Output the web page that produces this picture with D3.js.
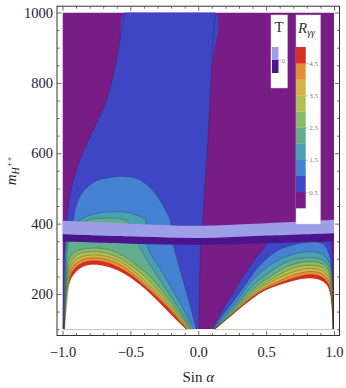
<!DOCTYPE html>
<html lang="en">
<head>
<meta charset="UTF-8">
<title>R_gamma_gamma contour</title>
<script src="https://cdn.jsdelivr.net/npm/d3@7"></script>
<style>
    html, body {
        margin: 0;
        padding: 0;
        background: #fff;
        overflow: hidden;
    }
    text {
        font-family: "Liberation Serif", "DejaVu Serif", serif;
    }
</style>
</head>
<body>
<script>
    // contour levels of R_gamma_gamma and the colour of each band (0-0.5, 0.5-1, ... 4.5-5)
    const levels = [0.5, 1, 1.5, 2, 2.5, 3, 3.5, 4, 4.5];
    const bandColors = ['#781c86', '#3e46c5', '#4682d2', '#4aa0b2', '#62ad8e',
        '#88bb68', '#b2bf52', '#d6b446', '#e58f35', '#dc2b22'];

    // boundary of the region R >= level, left arch (sin a < 0), points [sin a, m]
    const left05 = [[-0.998, 100], [-0.993, 250], [-0.985, 340], [-0.975, 380], [-0.969, 411], [-0.957, 449],
        [-0.932, 505], [-0.871, 581], [-0.785, 658], [-0.674, 752], [-0.613, 847], [-0.576, 923], [-0.54, 1000],
        [0.123, 1000], [0.099, 847], [0.074, 658], [0.05, 515], [0.033, 411], [0.02, 370], [0.014, 300],
        [0.01, 250], [0.008, 175], [0.003, 100]];
    const left10 = [[-0.996, 100], [-0.986, 250], [-0.978, 340], [-0.955, 385], [-0.92, 411], [-0.9, 450],
        [-0.85, 490], [-0.76, 520], [-0.64, 532], [-0.54, 534], [-0.44, 526], [-0.35, 500], [-0.28, 465],
        [-0.23, 430], [-0.208, 411], [-0.195, 375], [-0.183, 340], [-0.12, 250], [-0.065, 175], [-0.015, 100]];
    const left15 = [[-0.994, 100], [-0.98, 250], [-0.97, 340], [-0.94, 385], [-0.87, 411], [-0.82, 421],
        [-0.72, 431], [-0.6, 434], [-0.5, 430], [-0.43, 420], [-0.39, 411], [-0.385, 375], [-0.38, 340],
        [-0.247, 250], [-0.136, 175], [-0.03, 100]];
    const left20 = [[-0.992, 100], [-0.974, 250], [-0.962, 335], [-0.93, 380], [-0.8, 411], [-0.72, 415],
        [-0.64, 416], [-0.56, 413], [-0.52, 405], [-0.47, 375], [-0.44, 340], [-0.3, 250], [-0.17, 175],
        [-0.045, 100]];
    const left25 = [[-0.99, 100], [-0.968, 250], [-0.95, 300], [-0.9, 322], [-0.8, 330], [-0.7, 329],
        [-0.6, 318], [-0.5, 295], [-0.355, 250], [-0.195, 175], [-0.055, 100]];
    const left30 = [[-0.989, 100], [-0.962, 250], [-0.94, 290], [-0.89, 312], [-0.8, 320], [-0.7, 318],
        [-0.6, 306], [-0.5, 282], [-0.395, 250], [-0.215, 175], [-0.064, 100]];
    const left35 = [[-0.988, 100], [-0.955, 250], [-0.93, 285], [-0.88, 303], [-0.78, 311], [-0.68, 307],
        [-0.58, 293], [-0.5, 272], [-0.43, 250], [-0.232, 175], [-0.072, 100]];
    const left40 = [[-0.987, 100], [-0.948, 250], [-0.92, 280], [-0.86, 297], [-0.77, 303], [-0.67, 298],
        [-0.57, 282], [-0.455, 250], [-0.245, 175], [-0.08, 100]];
    const left45 = [[-0.986, 100], [-0.94, 250], [-0.91, 272], [-0.85, 289], [-0.77, 294], [-0.67, 289],
        [-0.56, 270], [-0.48, 250], [-0.26, 175], [-0.085, 100]];
    const leftEdge = [[-0.985, 100], [-0.975, 174], [-0.957, 221], [-0.92, 254], [-0.846, 278], [-0.773, 283],
        [-0.674, 278], [-0.552, 259], [-0.429, 226], [-0.306, 183], [-0.184, 135], [-0.09, 100]];

    // same for the right arch (sin a > 0)
    const right05 = [[0.1, 100], [0.21, 175], [0.33, 250], [0.42, 300], [0.5, 340], [0.56, 375], [0.72, 385],
        [0.86, 385], [0.95, 372], [0.98, 340], [0.993, 250], [0.999, 100]];
    const right10 = [[0.105, 100], [0.18, 140], [0.25, 175], [0.35, 228], [0.45, 280], [0.57, 320], [0.7, 340],
        [0.82, 348], [0.92, 342], [0.96, 318], [0.986, 260], [0.996, 170], [0.999, 100]];
    const right15 = [[0.108, 100], [0.185, 135], [0.275, 175], [0.39, 235], [0.52, 280], [0.66, 308],
        [0.8, 320], [0.915, 313], [0.972, 282], [0.992, 230], [0.997, 164], [0.998, 100]];
    const right20 = [[0.111, 100], [0.2, 135], [0.293, 175], [0.41, 227], [0.54, 266], [0.67, 294],
        [0.8, 303], [0.915, 297], [0.97, 272], [0.99, 225], [0.996, 164], [0.997, 100]];
    const right25 = [[0.113, 100], [0.21, 135], [0.308, 175], [0.43, 222], [0.56, 257], [0.68, 282],
        [0.81, 292], [0.912, 286], [0.966, 264], [0.987, 220], [0.995, 164], [0.996, 100]];
    const right30 = [[0.115, 100], [0.22, 135], [0.32, 175], [0.44, 217], [0.57, 249], [0.69, 272],
        [0.81, 282], [0.91, 276], [0.963, 256], [0.985, 216], [0.993, 164], [0.995, 100]];
    const right35 = [[0.117, 100], [0.225, 135], [0.33, 175], [0.45, 214], [0.58, 243], [0.7, 263],
        [0.815, 273], [0.908, 267], [0.96, 249], [0.982, 212], [0.991, 164], [0.994, 100]];
    const right40 = [[0.119, 100], [0.228, 135], [0.339, 175], [0.46, 211], [0.59, 236], [0.71, 255],
        [0.82, 264], [0.905, 259], [0.955, 242], [0.979, 208], [0.989, 164], [0.993, 100]];
    const right45 = [[0.121, 100], [0.23, 135], [0.347, 175], [0.47, 209], [0.6, 231], [0.72, 247],
        [0.82, 255], [0.9, 250], [0.95, 234], [0.975, 205], [0.987, 164], [0.992, 100]];
    const rightEdge = [[0.123, 100], [0.233, 135], [0.356, 174], [0.479, 207], [0.602, 226], [0.725, 240],
        [0.823, 245], [0.897, 240], [0.946, 226], [0.97, 202], [0.983, 164], [0.99, 100]];

    const leftContours = [left05, left10, left15, left20, left25, left30, left35, left40, left45];
    const rightContours = [right05, right10, right15, right20, right25, right30, right35, right40, right45];

    // T band
    const bandS = [-1, -0.5, 0, 0.5, 1];
    const lavTop = [408, 400, 394, 401, 411];
    const lavBot = [370, 364, 359, 366, 373];
    const darkBot = [349, 343, 340, 344, 349];
    const tColors = ['#9e9ee8', '#4c148c'];

    // ticks
    const xMajor = [-1, -0.5, 0, 0.5, 1];
    const yMajor = [200, 400, 600, 800, 1000];
    const barTicks = [0.5, 1.5, 2.5, 3.5, 4.5];

    const width = 346;
    const height = 388;

    const x = d3.scaleLinear().domain([-1, 1]).range([62.5, 334]);
    const y = d3.scaleLinear().domain([100, 1000]).range([329.2, 12.5]);
    const frame = {left: 57, right: 339.5, top: 6.2, bottom: 335.5};

    const svg = d3.select('body').append('svg')
        .attr('width', width)
        .attr('height', height);

    svg.append('defs').append('clipPath')
        .attr('id', 'plot-clip')
        .append('rect')
        .attr('x', x(-1))
        .attr('y', y(1000))
        .attr('width', x(1) - x(-1))
        .attr('height', y(100) - y(1000));

    const plot = svg.append('g').attr('clip-path', 'url(#plot-clip)');

    // below the lowest level
    plot.append('rect')
        .attr('x', x(-1))
        .attr('y', y(1000))
        .attr('width', x(1) - x(-1))
        .attr('height', y(100) - y(1000))
        .attr('fill', bandColors[0]);

    const curve = d3.curveCatmullRom.alpha(0.5);
    const line = d3.line().x(d => x(d[0])).y(d => y(d[1])).curve(curve);

    // filled bands, painted from the lowest level up
    [leftContours, rightContours].forEach(side => {
        plot.append('g')
            .selectAll('path')
            .data(side)
            .enter().append('path')
            .attr('d', d => line(d) + 'Z')
            .attr('fill', (d, i) => bandColors[i + 1]);
    });

    // excluded region
    plot.selectAll('.edge')
        .data([leftEdge, rightEdge])
        .enter().append('path')
        .classed('edge', true)
        .attr('d', d => line(d) + 'Z')
        .attr('fill', '#fff');

    // contour lines (skip the piece running along the top edge)
    function openPieces(pts) {
        let pieces = [[pts[0]]];
        for (let i = 1; i < pts.length; i++) {
            if (pts[i][1] === 1000 && pts[i - 1][1] === 1000) {
                pieces.push([pts[i]]);
            } else {
                pieces[pieces.length - 1].push(pts[i]);
            }
        }
        return pieces;
    }

    plot.append('g')
        .selectAll('path')
        .data(leftContours.concat(rightContours).flatMap(openPieces))
        .enter().append('path')
        .attr('d', line)
        .attr('fill', 'none')
        .attr('stroke', '#222')
        .attr('stroke-opacity', 0.45)
        .attr('stroke-width', 0.6);

    // T band
    const bandRows = bandS.map((s, i) => ({s: s, top: lavTop[i], mid: lavBot[i], bot: darkBot[i]}));
    const bandArea = d3.area().x(d => x(d.s)).curve(curve);
    plot.append('path')
        .datum(bandRows)
        .attr('d', bandArea.y0(d => y(d.bot)).y1(d => y(d.mid)))
        .attr('fill', tColors[1]);
    plot.append('path')
        .datum(bandRows)
        .attr('d', bandArea.y0(d => y(d.mid)).y1(d => y(d.top)))
        .attr('fill', tColors[0]);

    // frame
    svg.append('rect')
        .attr('x', frame.left)
        .attr('y', frame.top)
        .attr('width', frame.right - frame.left)
        .attr('height', frame.bottom - frame.top)
        .attr('fill', 'none')
        .attr('stroke', '#333')
        .attr('stroke-width', 1);

    const xMinor = x.ticks(20).filter(v => !xMajor.some(m => Math.abs(m - v) < 1e-9));
    const yMinor = y.ticks(18).filter(v => yMajor.indexOf(v) < 0);
    const labelColor = '#1b1b33';

    function styleAxis(g) {
        g.select('.domain').remove();
        g.selectAll('line').attr('stroke', '#444').attr('stroke-width', 0.8);
        g.selectAll('text')
            .attr('font-size', 14.5)
            .attr('font-family', '"Liberation Serif", serif')
            .attr('fill', labelColor);
    }

    const axes = [
        {pos: `translate(0,${frame.bottom})`, ax: d3.axisBottom(x), major: xMajor, minor: xMinor, label: true},
        {pos: `translate(0,${frame.top})`, ax: d3.axisTop(x), major: xMajor, minor: xMinor, label: false},
        {pos: `translate(${frame.left},0)`, ax: d3.axisLeft(y), major: yMajor, minor: yMinor, label: true},
        {pos: `translate(${frame.right},0)`, ax: d3.axisRight(y), major: yMajor, minor: yMinor, label: false}
    ];

    axes.forEach((a, i) => {
        let fmt = a.label ? (i === 0 ? d3.format('.1f') : d3.format('d')) : () => '';
        svg.append('g')
            .attr('transform', a.pos)
            .call(a.ax.tickValues(a.major).tickSize(-4.5).tickPadding(i === 0 ? 11 : 4).tickFormat(fmt))
            .call(styleAxis);
        svg.append('g')
            .attr('transform', a.pos)
            .call(a.ax.tickValues(a.minor).tickSize(-2.5).tickFormat(() => ''))
            .call(styleAxis);
    });

    // axis titles
    let xTitle = svg.append('text')
        .attr('x', (x(-1) + x(1)) / 2)
        .attr('y', 382)
        .attr('text-anchor', 'middle')
        .attr('font-size', 15)
        .attr('fill', labelColor);
    xTitle.append('tspan').text('Sin ');
    xTitle.append('tspan').attr('font-style', 'italic').text('α');

    let yTitle = svg.append('text')
        .attr('transform', `translate(16,${(y(100) + y(1000)) / 2}) rotate(-90)`)
        .attr('text-anchor', 'middle')
        .attr('font-size', 15)
        .attr('font-style', 'italic')
        .attr('fill', labelColor);
    yTitle.append('tspan').text('m');
    yTitle.append('tspan').attr('font-size', 10).attr('dy', 3).text('H');
    yTitle.append('tspan').attr('font-size', 8).attr('dy', -7).text('++');

    // T legend
    const tLegend = svg.append('g');
    tLegend.append('rect')
        .attr('x', 271).attr('y', 15)
        .attr('width', 16.5).attr('height', 73)
        .attr('fill', '#fff')
        .attr('stroke', '#ccc').attr('stroke-width', 0.5);
    tLegend.append('text')
        .attr('x', 279.2).attr('y', 32)
        .attr('text-anchor', 'middle')
        .attr('font-size', 15)
        .attr('fill', '#333')
        .text('T');
    tLegend.selectAll('.sw')
        .data(tColors)
        .enter().append('rect')
        .classed('sw', true)
        .attr('x', 272).attr('y', (d, i) => 47 + i * 13)
        .attr('width', 6.5).attr('height', 13)
        .attr('fill', d => d);
    tLegend.append('line')
        .attr('x1', 278.5).attr('x2', 281).attr('y1', 60).attr('y2', 60)
        .attr('stroke', '#998').attr('stroke-width', 0.6);
    tLegend.append('text')
        .attr('x', 281.5).attr('y', 62.5)
        .attr('font-size', 7)
        .attr('fill', '#857868')
        .text('0');

    // R legend
    const rLegend = svg.append('g');
    rLegend.append('rect')
        .attr('x', 296).attr('y', 15)
        .attr('width', 24.5).attr('height', 209)
        .attr('fill', '#fff')
        .attr('stroke', '#ccc').attr('stroke-width', 0.5);
    let rTitle = rLegend.append('text')
        .attr('x', 298).attr('y', 33)
        .attr('font-size', 15)
        .attr('font-style', 'italic')
        .attr('fill', '#333');
    rTitle.append('tspan').text('R');
    rTitle.append('tspan').attr('font-size', 10).attr('dy', 3).text('γγ');

    const yBar = d3.scaleLinear().domain([0, 5]).range([208, 47]);
    rLegend.selectAll('.bar')
        .data(bandColors)
        .enter().append('rect')
        .classed('bar', true)
        .attr('x', 296)
        .attr('y', (d, i) => yBar((i + 1) * 0.5))
        .attr('width', 9.7)
        .attr('height', (d, i) => yBar(i * 0.5) - yBar((i + 1) * 0.5) + 0.3)
        .attr('fill', d => d);
    rLegend.append('g')
        .attr('transform', 'translate(305.7,0)')
        .call(d3.axisRight(yBar).tickValues(barTicks).tickSize(2.5).tickPadding(1).tickFormat(d3.format('.1f')))
        .call(g => {
            g.select('.domain').remove();
            g.selectAll('line').attr('stroke', '#998').attr('stroke-width', 0.6);
            g.selectAll('text')
                .attr('font-size', 7)
                .attr('font-family', '"Liberation Serif", serif')
                .attr('fill', '#857868');
        });
</script>
</body>
</html>
